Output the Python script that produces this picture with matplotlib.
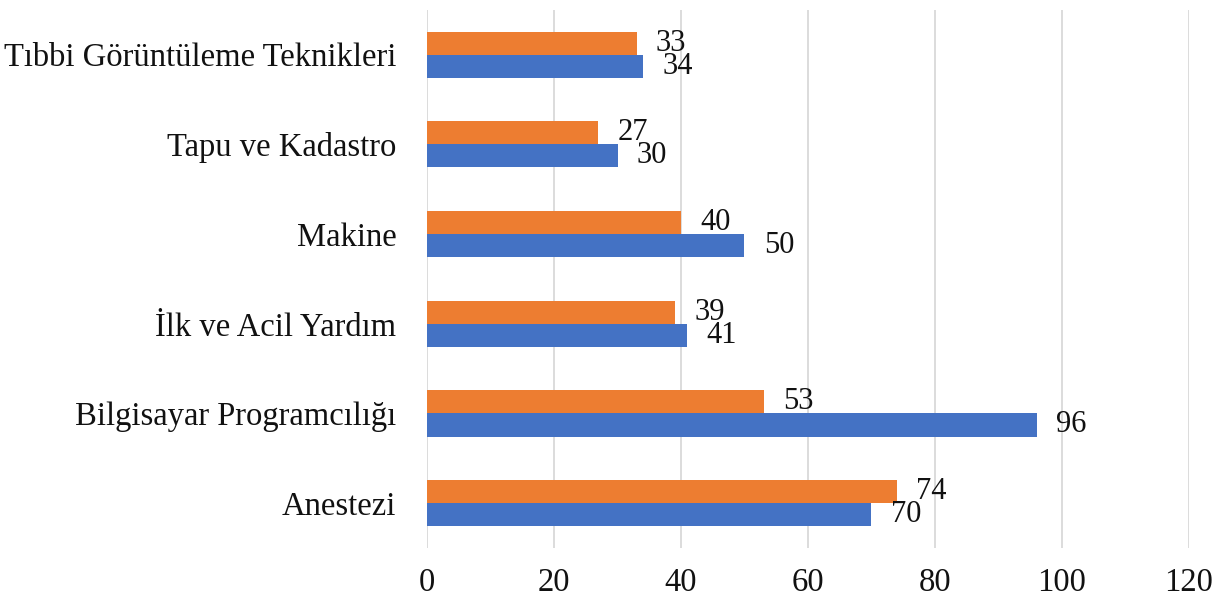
import numpy as np
import matplotlib.pyplot as plt

plt.rcParams['font.family'] = ['Liberation Serif', 'DejaVu Serif']

# Bölümler (alttan üste)
bolumler = ['Anestezi', 'Bilgisayar Programcılığı', 'İlk ve Acil Yardım',
            'Makine', 'Tapu ve Kadastro', 'Tıbbi Görüntüleme Teknikleri']
turuncu = [74, 53, 39, 40, 27, 33]
mavi = [70, 96, 41, 50, 30, 34]

fig = plt.figure(figsize=(12.26, 6.13), dpi=100)
ax = fig.add_axes([0.3483, 0.106, 0.6215, 0.878])

y = np.arange(len(bolumler))
h = 0.257
b1 = ax.barh(y + h / 2, turuncu, height=h, color='#ED7D31', zorder=3)
b2 = ax.barh(y - h / 2, mavi, height=h, color='#4472C4', zorder=3)

for bars in (b1, b2):
    ax.bar_label(bars, padding=14, fontsize=22, color='#111111')

ax.set_xlim(0, 120)
ax.set_ylim(-0.5, len(bolumler) - 0.5)
ax.set_xticks(range(0, 121, 20))
ax.set_yticks(y)
ax.set_yticklabels(bolumler)
ax.tick_params(axis='both', length=0, labelsize=23.5, colors='#111111')
ax.tick_params(axis='y', pad=22)
ax.tick_params(axis='x', pad=14)
ax.grid(axis='x', color='#d9d9d9', linewidth=1.3, zorder=0)
for s in ax.spines.values():
    s.set_visible(False)

fig.savefig('out.png', dpi=100)
